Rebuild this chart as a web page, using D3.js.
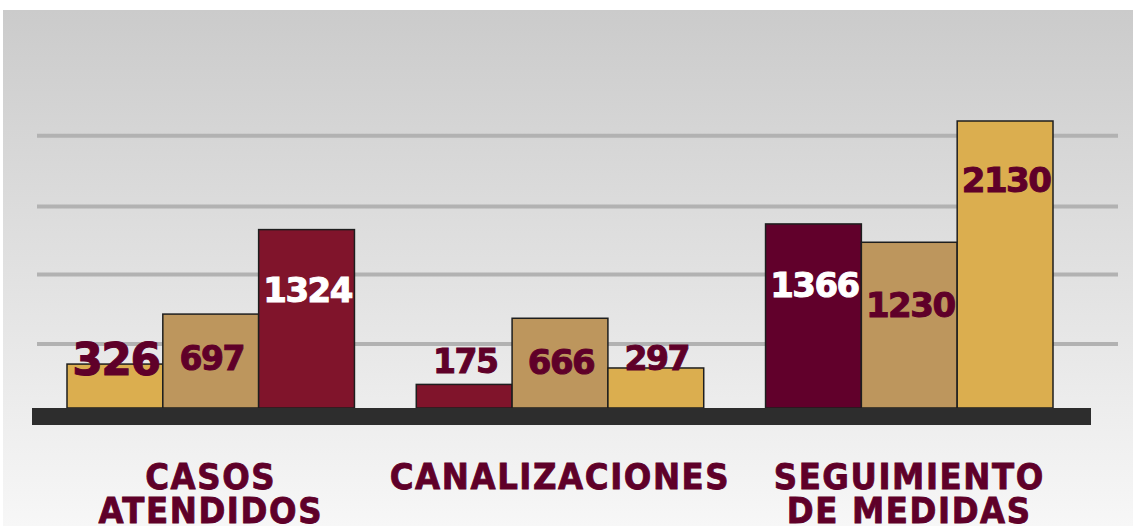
<!DOCTYPE html>
<html>
<head>
<meta charset="utf-8">
<script src="https://cdn.jsdelivr.net/npm/d3@7"></script>
<style>
  html, body { margin: 0; padding: 0; background: #fff; }
  svg { display: block; }
</style>
</head>
<body>
<div id="chart"></div>
<script>
// datos del grafico
var groups = ["CASOS ATENDIDOS", "CANALIZACIONES", "SEGUIMIENTO DE MEDIDAS"];
var groupLines = [["CASOS", "ATENDIDOS"], ["CANALIZACIONES"], ["SEGUIMIENTO", "DE MEDIDAS"]];
var casosValues = [326, 697, 1324];
var canalizacionesValues = [175, 666, 297];
var seguimientoValues = [1366, 1230, 2130];
var gridValues = [475, 990, 1495, 2020];

var W = 1133, H = 526;

var svg = d3.select("#chart")
    .append("svg")
    .attr("width", W)
    .attr("height", H);

// fondo degradado
var defs = svg.append("defs");
var grad = defs.append("linearGradient")
    .attr("id", "bg")
    .attr("x1", 0).attr("y1", 0).attr("x2", 0).attr("y2", 1);
grad.append("stop").attr("offset", "0%").attr("stop-color", "#cbcbcb");
grad.append("stop").attr("offset", "55%").attr("stop-color", "#e3e3e3");
grad.append("stop").attr("offset", "100%").attr("stop-color", "#f7f7f7");

svg.append("rect")
    .attr("x", 3)
    .attr("y", 10)
    .attr("width", W - 3)
    .attr("height", H - 10)
    .attr("fill", "url(#bg)");

var x0 = d3.scaleBand()
    .domain(groups)
    .range([67, 1053])
    .paddingInner(0.177)
    .paddingOuter(0);

var x1 = d3.scaleBand()
    .domain([0, 1, 2])
    .range([0, x0.bandwidth()]);

var y = d3.scaleLinear()
    .domain([0, 2130])
    .range([408, 121]);

// lineas guia
svg.append("g")
    .selectAll("line")
    .data(gridValues)
    .enter()
    .append("line")
    .attr("x1", 37)
    .attr("x2", 1118)
    .attr("y1", function (d) { return y(d); })
    .attr("y2", function (d) { return y(d); })
    .attr("stroke", "#b2b2b2")
    .attr("stroke-width", 4);

var yellow = "#dbae4f", tan = "#bd965d", crimson = "#80142b", maroon = "#61002b";
var labelDark = "#5f0029";

var series = [
    {values: casosValues, colors: [yellow, tan, crimson], text: [labelDark, labelDark, "#fff"]},
    {values: canalizacionesValues, colors: [crimson, tan, yellow], text: [labelDark, labelDark, labelDark]},
    {values: seguimientoValues, colors: [maroon, tan, yellow], text: ["#fff", labelDark, labelDark]}
];

// posicion del texto: dentro o sobre la barra
var labelBaseline = [
    [375, 370, 302],
    [373, 374, 370],
    [297, 317, 192]
];
var labelSize = [
    [44, 33, 34],
    [33, 34, 33],
    [34, 34, 34]
];

series.forEach(function (s, gi) {
    var g = svg.append("g")
        .attr("transform", "translate(" + x0(groups[gi]) + ",0)");

    g.selectAll("rect")
        .data(s.values)
        .enter()
        .append("rect")
        .attr("x", function (d, i) { return x1(i); })
        .attr("y", function (d) { return y(d); })
        .attr("width", x1.bandwidth())
        .attr("height", function (d) { return y(0) - y(d); })
        .attr("fill", function (d, i) { return s.colors[i]; })
        .attr("stroke", "#1e1e1e")
        .attr("stroke-width", 1.5);

    g.selectAll("text")
        .data(s.values)
        .enter()
        .append("text")
        .attr("x", function (d, i) { return x1(i) + x1.bandwidth() / 2 + 1; })
        .attr("y", function (d, i) { return labelBaseline[gi][i]; })
        .attr("text-anchor", "middle")
        .style("font-family", "'DejaVu Sans', sans-serif")
        .style("font-weight", "bold")
        .style("font-size", function (d, i) { return labelSize[gi][i] + "px"; })
        .style("letter-spacing", "-1.5px")
        .attr("fill", function (d, i) { return s.text[i]; })
        .attr("stroke", function (d, i) { return s.text[i]; })
        .attr("stroke-width", 1)
        .text(function (d) { return d; });
});

// base oscura
svg.append("rect")
    .attr("x", 32)
    .attr("y", y(0))
    .attr("width", 1091 - 32)
    .attr("height", 17)
    .attr("fill", "#2d2d2d");

// nombres de categorias
groupLines.forEach(function (lines, gi) {
    var cx = x0(groups[gi]) + x0.bandwidth() / 2;
    lines.forEach(function (line, li) {
        svg.append("text")
            .attr("x", cx)
            .attr("y", 489 + li * 34)
            .attr("text-anchor", "middle")
            .style("font-family", "'DejaVu Sans Condensed', 'DejaVu Sans', sans-serif")
            .style("font-weight", "bold")
            .style("font-size", "36px")
            .style("letter-spacing", "1.6px")
            .attr("fill", "#5f0029")
            .attr("stroke", "#5f0029")
            .attr("stroke-width", 0.8)
            .text(line);
    });
});
</script>
</body>
</html>
